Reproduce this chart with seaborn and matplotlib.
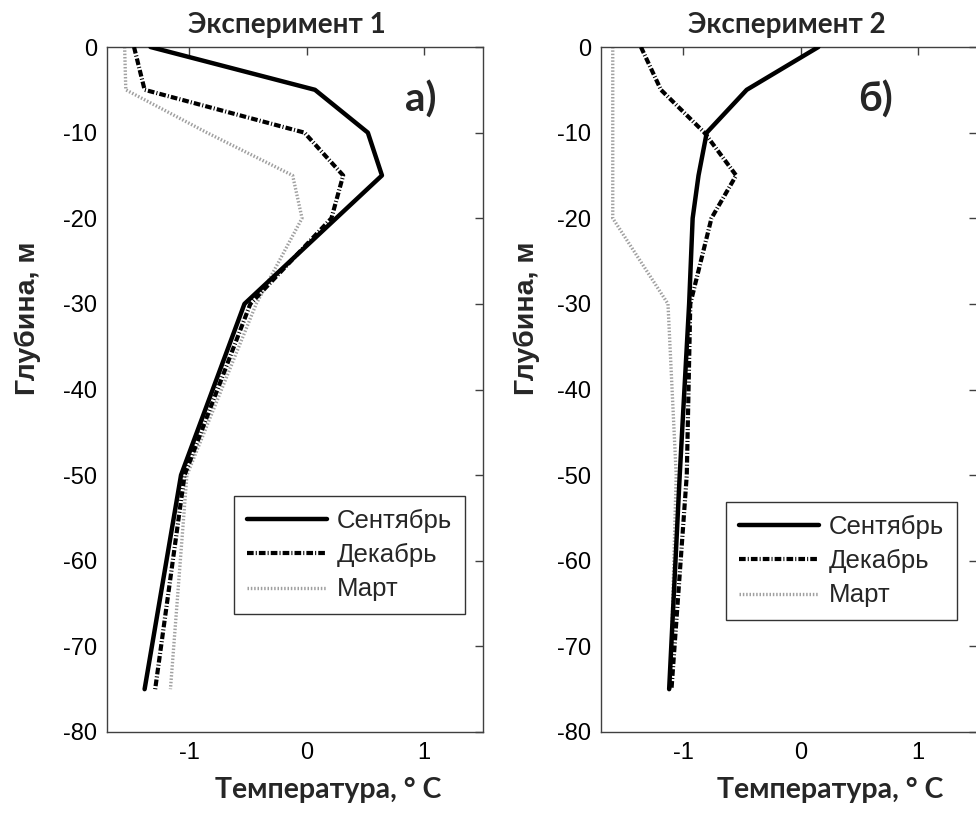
import matplotlib
matplotlib.use("Agg")
import matplotlib.pyplot as plt
import pandas as pd
import seaborn as sns

# ---- data ----
depth = [0, -5, -10, -15, -20, -30, -50, -75]
months = ["Сентябрь", "Декабрь", "Март"]

exp1_sep = [-1.33, 0.07, 0.52, 0.64, 0.25, -0.53, -1.07, -1.38]
exp1_dec = [-1.47, -1.38, -0.02, 0.31, 0.21, -0.48, -1.04, -1.29]
exp1_mar = [-1.55, -1.54, -0.85, -0.12, -0.04, -0.43, -1.02, -1.16]

exp2_sep = [0.15, -0.46, -0.80, -0.87, -0.92, -0.95, -1.03, -1.12]
exp2_dec = [-1.36, -1.19, -0.82, -0.55, -0.76, -0.94, -0.97, -1.10]
exp2_mar = [-1.60, -1.60, -1.60, -1.60, -1.60, -1.13, -1.06, -1.11]

titles = ["Эксперимент 1", "Эксперимент 2"]
panel_tags = ["а)", "б)"]
xlabel = "Температура, ° С"
ylabel = "Глубина, м"
xticks = [-1, 0, 1]
yticks = [0, -10, -20, -30, -40, -50, -60, -70, -80]

sns.set_theme(style="white")
plt.rcParams["font.family"] = ["Liberation Sans", "DejaVu Sans"]
plt.rcParams["axes.unicode_minus"] = False

W, H = 976, 814
fig = plt.figure(figsize=(W / 100, H / 100), dpi=100)


def fx(x):
    return x / W


def fy(y):
    return 1 - y / H


axL = fig.add_axes([107 / W, 1 - 732 / H, 376 / W, 685 / H])
axR = fig.add_axes([601 / W, 1 - 732 / H, 376 / W, 685 / H])

styles = {
    "Сентябрь": dict(color="black", lw=3.2, linestyle="-", zorder=4),
    "Декабрь": dict(color="black", lw=3.0, linestyle=(0, (1.6, 0.5, 0.25, 0.5)), zorder=3),
    "Март": dict(color="#a0a0a0", lw=2.4, linestyle=(0, (0.45, 0.55)), zorder=2),
}

series = [
    (axL, [exp1_sep, exp1_dec, exp1_mar]),
    (axR, [exp2_sep, exp2_dec, exp2_mar]),
]

bold_font = ["Lato", "Open Sans", "DejaVu Sans"]

for i, (ax, vals) in enumerate(series):
    for m, v in zip(months, vals):
        df = pd.DataFrame({"T": v, "D": depth})
        sns.lineplot(data=df, x="T", y="D", sort=False, estimator=None,
                     ax=ax, label=m, **styles[m])
    ax.set_xlim(-1.7, 1.5)
    ax.set_ylim(-80, 0)
    ax.set_xticks(xticks)
    ax.set_xticklabels([str(t) for t in xticks])
    ax.set_yticks(yticks)
    ax.set_yticklabels([str(t) for t in yticks])
    ax.set_xlabel("")
    ax.set_ylabel("")
    ax.tick_params(direction="in", top=True, right=True, length=6, width=1,
                   color="#404040", labelsize=17, labelcolor="black", pad=7)
    for s in ax.spines.values():
        s.set_color("#404040")
        s.set_linewidth(1.0)
    ax.grid(False)

# legends
for ax, (lx, ly) in [(axL, (234, 496)), (axR, (726, 502))]:
    leg = ax.legend(loc="upper left", bbox_to_anchor=(fx(lx), fy(ly)),
                    bbox_transform=fig.transFigure, borderaxespad=0,
                    fontsize=18.5, handlelength=3.1, handletextpad=0.4,
                    labelspacing=0.4, borderpad=0.5, fancybox=False,
                    framealpha=1, edgecolor="#333333")
    leg.get_frame().set_linewidth(1.0)

# titles, labels, tags
for cx, t in zip([287, 787], titles):
    fig.text(fx(cx), fy(25), t, ha="center", va="center", fontsize=20,
             fontweight="bold", family=bold_font)
for cx, tag in zip([421, 875], panel_tags):
    fig.text(fx(cx), fy(100), tag, ha="center", va="center", fontsize=29,
             fontweight="bold", family=bold_font)
for cx in [328, 830]:
    fig.text(fx(cx), fy(790), xlabel, ha="center", va="center", fontsize=20.5,
             fontweight="bold", family=bold_font)
for cx in [28, 527]:
    fig.text(fx(cx), fy(318), ylabel, ha="center", va="center", fontsize=20.5,
             fontweight="bold", rotation=90,
             family=["Liberation Sans", "DejaVu Sans"])

fig.savefig("out.png", dpi=100)
